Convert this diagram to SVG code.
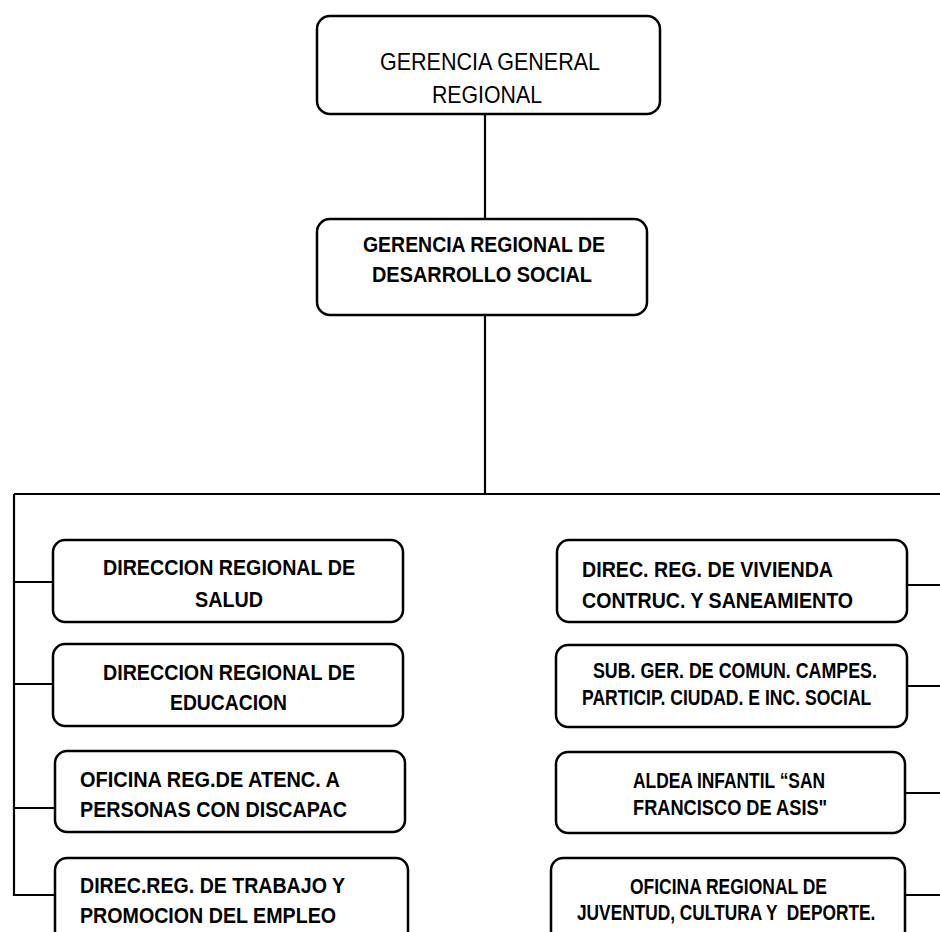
<svg xmlns="http://www.w3.org/2000/svg" width="940" height="932" viewBox="0 0 940 932">
<style>
.box{fill:#fff;stroke:#000;stroke-width:2.5}
.con{fill:none;stroke:#000;stroke-width:2.2}
.t{font-family:"Liberation Sans",Arial,sans-serif;font-size:22px;font-weight:bold;fill:#000}
.tr{font-family:"Liberation Sans",Arial,sans-serif;font-size:24px;fill:#000}
</style>
<rect width="940" height="932" fill="#fff"/>
<g id="connectors">
<path class="con" d="M485 114 V218 M485 315 V494 M14 494 H940 M14 494 V895 H55"/>
<path class="con" d="M14 582 H53 M14 684 H53 M14 808 H55"/>
<path class="con" d="M907 585 H940 M907 686 H940 M905 793 H940 M905 895 H940"/>
</g>
<g id="gerencia-general">
<rect class="box" x="317" y="16" width="343" height="98" rx="13"/>
<text class="tr" x="380" y="70" textLength="220" lengthAdjust="spacingAndGlyphs">GERENCIA GENERAL</text>
<text class="tr" x="432" y="103" textLength="110" lengthAdjust="spacingAndGlyphs">REGIONAL</text>
</g>
<g id="gerencia-desarrollo">
<rect class="box" x="317" y="219" width="330" height="96" rx="13"/>
<text class="t" x="363" y="252" textLength="242" lengthAdjust="spacingAndGlyphs">GERENCIA REGIONAL DE</text>
<text class="t" x="372" y="282" textLength="220" lengthAdjust="spacingAndGlyphs">DESARROLLO SOCIAL</text>
</g>
<g id="dir-salud">
<rect class="box" x="53" y="540" width="350" height="82" rx="12"/>
<text class="t" x="103" y="575" textLength="252" lengthAdjust="spacingAndGlyphs">DIRECCION REGIONAL DE</text>
<text class="t" x="195" y="607" textLength="68" lengthAdjust="spacingAndGlyphs">SALUD</text>
</g>
<g id="dir-educacion">
<rect class="box" x="53" y="644" width="350" height="82" rx="12"/>
<text class="t" x="103" y="680" textLength="252" lengthAdjust="spacingAndGlyphs">DIRECCION REGIONAL DE</text>
<text class="t" x="170" y="710" textLength="117" lengthAdjust="spacingAndGlyphs">EDUCACION</text>
</g>
<g id="ofi-discapac">
<rect class="box" x="55" y="751" width="350" height="81" rx="12"/>
<text class="t" x="80" y="787" textLength="260" lengthAdjust="spacingAndGlyphs">OFICINA REG.DE ATENC. A</text>
<text class="t" x="80" y="817" textLength="267" lengthAdjust="spacingAndGlyphs">PERSONAS CON DISCAPAC</text>
</g>
<g id="dir-trabajo">
<rect class="box" x="55" y="858" width="353" height="90" rx="12"/>
<text class="t" x="80" y="893" textLength="265" lengthAdjust="spacingAndGlyphs">DIREC.REG. DE TRABAJO Y</text>
<text class="t" x="80" y="923" textLength="256" lengthAdjust="spacingAndGlyphs">PROMOCION DEL EMPLEO</text>
</g>
<g id="dir-vivienda">
<rect class="box" x="557" y="540" width="350" height="82" rx="12"/>
<text class="t" x="582" y="577" textLength="251" lengthAdjust="spacingAndGlyphs">DIREC. REG. DE VIVIENDA</text>
<text class="t" x="582" y="608" textLength="271" lengthAdjust="spacingAndGlyphs">CONTRUC. Y SANEAMIENTO</text>
</g>
<g id="sub-ger-comun">
<rect class="box" x="556" y="645" width="351" height="82" rx="12"/>
<text class="t" transform="translate(593 678) scale(0.81 1)">SUB. GER. DE COMUN. CAMPES.</text>
<text class="t" transform="translate(582 705) scale(0.799 1)">PARTICIP. CIUDAD. E INC. SOCIAL</text>
</g>
<g id="aldea-infantil">
<rect class="box" x="556" y="752" width="349" height="81" rx="12"/>
<text class="t" transform="translate(633 788) scale(0.79 1)">ALDEA INFANTIL “SAN</text>
<text class="t" transform="translate(633 815) scale(0.829 1)">FRANCISCO DE ASIS"</text>
</g>
<g id="ofi-juventud">
<rect class="box" x="551" y="858" width="354" height="90" rx="12"/>
<text class="t" transform="translate(630 894) scale(0.794 1)">OFICINA REGIONAL DE</text>
<text class="t" transform="translate(577 920) scale(0.787 1)" xml:space="preserve">JUVENTUD, CULTURA Y  DEPORTE.</text>
</g>
</svg>
